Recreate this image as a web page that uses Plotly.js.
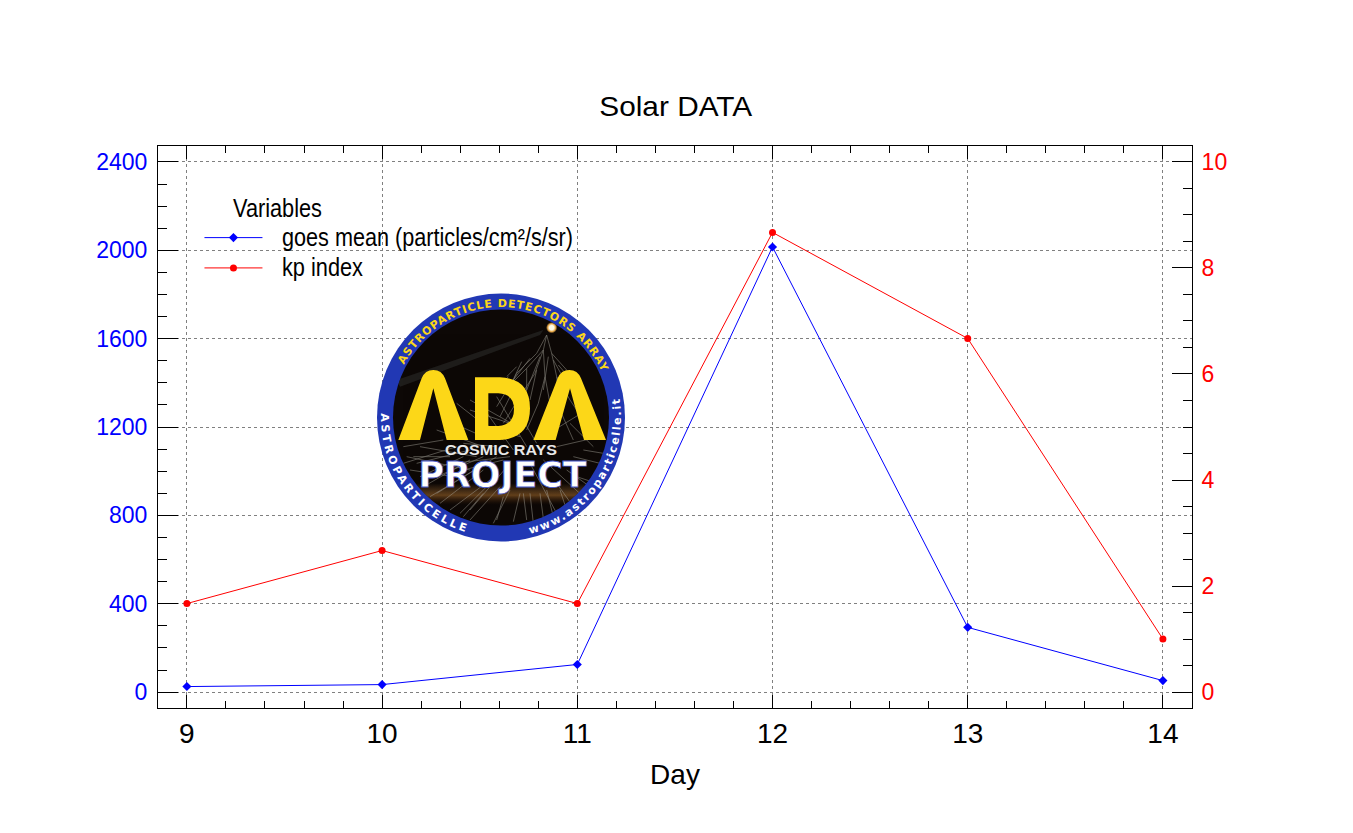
<!DOCTYPE html>
<html>
<head>
<meta charset="utf-8">
<script src="https://cdn.plot.ly/plotly-3.0.1.min.js"></script>
<style>
html,body{margin:0;padding:0;background:#fff;overflow:hidden}
#wrap{position:relative;width:1353px;height:833px}
#chart{position:absolute;left:0;top:0;width:1353px;height:833px}
#logo{position:absolute;left:0;top:0;pointer-events:none}
</style>
</head>
<body>
<div id="wrap">
<div id="chart"></div>
<svg id="logo" width="1353" height="833" viewBox="0 0 1353 833" xmlns="http://www.w3.org/2000/svg"></svg>
</div>
<script>
const days = [9, 10, 11, 12, 13, 14];
const goesMean = [25, 34, 125, 2015, 293, 52];
const kpIndex = [1.67, 2.67, 1.67, 8.67, 6.67, 1.0];
const goesName = 'goes mean (particles/cm²/s/sr)';
const kpName = 'kp index';
const sans = '"Liberation Sans",Arial,sans-serif';

const traces = [
  {x: days, y: goesMean, name: goesName, mode: 'lines+markers', yaxis: 'y',
   line: {color: '#0000ff', width: 1}, marker: {color: '#0000ff', symbol: 'diamond', size: 7}},
  {x: days, y: kpIndex, name: kpName, mode: 'lines+markers', yaxis: 'y2',
   line: {color: '#ff0000', width: 1}, marker: {color: '#ff0000', symbol: 'circle', size: 7}}
];

const layout = {
  width: 1353, height: 833,
  margin: {l: 157.5, r: 160.5, t: 145.5, b: 125, pad: 0},
  paper_bgcolor: '#fff', plot_bgcolor: '#fff',
  showlegend: true,
  title: {text: 'Solar DATA', font: {family: sans, size: 28, color: '#000'},
          x: 677.5/1353, xref: 'paper', xanchor: 'center', y: 1-106/833, yref: 'container', yanchor: 'middle'},
  xaxis: {
    range: [8.852, 14.149], tick0: 9, dtick: 1, tickmode: 'linear',
    ticks: 'inside', ticklen: 13, tickwidth: 1, tickcolor: '#000',
    showline: true, linecolor: '#000', linewidth: 1, mirror: 'ticks',
    showgrid: true, gridcolor: '#808080', gridwidth: 1, griddash: '3px,3px', zeroline: false,
    minor: {dtick: 0.2, tick0: 9, ticks: 'inside', ticklen: 7, tickwidth: 1, tickcolor: '#000', showgrid: false},
    tickfont: {family: sans, size: 28, color: '#000'}, ticklabelstandoff: 0,
    title: {text: 'Day', font: {family: sans, size: 28, color: '#000'}, standoff: 16}
  },
  yaxis: {
    range: [-72, 2472], tick0: 0, dtick: 400, tickmode: 'linear',
    ticks: 'inside', ticklen: 20, tickwidth: 1, tickcolor: '#000',
    showline: true, linecolor: '#000', linewidth: 1,
    showgrid: true, gridcolor: '#808080', gridwidth: 1, griddash: '3px,3px', zeroline: false,
    minor: {dtick: 100, tick0: 0, ticks: 'inside', ticklen: 9, tickwidth: 1, tickcolor: '#000', showgrid: false},
    tickfont: {family: sans, size: 23, color: '#0000ff'}, ticklabelstandoff: 5
  },
  yaxis2: {
    overlaying: 'y', side: 'right', range: [-0.3, 10.3], tick0: 0, dtick: 2, tickmode: 'linear',
    ticks: 'inside', ticklen: 20, tickwidth: 1, tickcolor: '#000',
    showline: true, linecolor: '#000', linewidth: 1,
    showgrid: false, zeroline: false,
    minor: {dtick: 0.5, tick0: 0, ticks: 'inside', ticklen: 9, tickwidth: 1, tickcolor: '#000', showgrid: false},
    tickfont: {family: sans, size: 23, color: '#ff0000'}, ticklabelstandoff: 4
  },
  legend: {
    x: (199-157.5)/1035, y: 1-(189.7-145.5)/562.5, xanchor: 'left', yanchor: 'top',
    bgcolor: 'rgba(0,0,0,0)', borderwidth: 0, itemwidth: 58, tracegroupgap: 0,
    font: {family: sans, size: 21, color: '#000'},
    title: {text: 'Variables', font: {family: sans, size: 21, color: '#000'}}
  }
};

/* Reference lettering is a condensed face: fit each real text to its measured width and left edge */
function fitText(el, width, left, size){
  if(!el) return;
  if(size) el.style.fontSize = size + 'px';
  el.setAttribute('textLength', width);
  el.setAttribute('lengthAdjust', 'spacingAndGlyphs');
  if(left !== null){
    const dx = left - el.getBoundingClientRect().left;
    el.setAttribute('x', (parseFloat(el.getAttribute('x')) || 0) + dx);
  }
}
Plotly.newPlot('chart', traces, layout, {displayModeBar: false, staticPlot: true}).then(function(){
  fitText(document.querySelector('.gtitle'), 153, null, null);
  const box = document.querySelector('.legend .scrollbox');
  if(box) box.removeAttribute('clip-path');
  const items = document.querySelectorAll('.legendtext');
  fitText(items[0], 291, 282, 25);
  fitText(items[1], 81, 282, 25);
  fitText(document.querySelector('.legendtitletext'), 89, 233, 25);
});

/* Decorative badge: artwork in zoomed logo coordinates, all lettering is real text */
const cx = 501, cy = 417.5;
function pt(r, deg){ const a = deg*Math.PI/180; return [cx + r*Math.sin(a), cy - r*Math.cos(a)]; }
function arc(r, from, to){
  const p = pt(r, from), q = pt(r, to), sweep = to > from ? 1 : 0, large = Math.abs(to-from) > 180 ? 1 : 0;
  return `M${p[0].toFixed(2)},${p[1].toFixed(2)}A${r},${r} 0 ${large} ${sweep} ${q[0].toFixed(2)},${q[1].toFixed(2)}`;
}
const showerLines = [
 [530,135,520,180],[530,135,500,190],[530,135,545,190],[520,180,470,235],[520,180,495,250],[520,180,525,260],[545,190,590,240],[545,190,560,260],
 [500,190,440,250],[470,235,420,285],[495,250,450,320],[525,260,505,340],[560,260,600,330],[590,240,640,310],[440,250,415,300],[505,340,470,420],
 [450,320,400,400],[600,330,660,420],[560,260,570,360],[470,235,470,300],[420,285,380,350],[640,310,680,390],[570,360,610,450],[525,260,540,340],
 [300,330,460,420],[260,340,400,450],[200,420,340,470],[150,470,320,500],[110,500,300,540],[330,340,430,480],[380,320,470,470],[430,340,500,460],
 [150,560,280,500],[180,620,330,530],[240,660,360,570],[300,690,390,590],[370,700,420,600],[430,695,450,610],[490,700,480,610],[550,680,530,600],
 [610,650,560,580],[660,590,590,540],[690,520,610,500],[560,470,690,440],[520,440,650,360],[120,540,250,560],[100,470,220,450],[250,400,340,440],
 [200,560,340,500],[420,520,300,660],[480,520,560,670],[380,500,200,610],[520,510,640,620],[340,610,280,680],
 [440,230,410,260],[455,215,420,290],[480,205,430,270],[510,200,470,300],[535,200,520,300],[550,210,600,300],[565,225,620,290],[500,240,480,330],
 [415,260,380,300],[430,300,390,380],[470,300,430,390],[300,360,420,400],[330,400,450,440],[280,460,380,470],[130,500,240,500],[140,520,300,480],
 [100,520,260,470],[160,590,300,510],[210,640,340,540],[270,670,350,590],[400,620,380,690],[460,610,470,690],[510,610,520,685],[570,600,590,660],
 [620,560,680,580],[640,480,700,490],[600,400,670,470],[620,330,660,380],[250,520,420,500],[280,540,400,510]
];
const lineTags = showerLines.map(l => `<line x1="${l[0]}" y1="${l[1]}" x2="${l[2]}" y2="${l[3]}"/>`).join('');
const logoSvg = `
<defs>
 <clipPath id="disc"><circle cx="${cx}" cy="${cy}" r="108"/></clipPath>
 <path id="arcTop" d="${arc(110.5,-61.5,65.8)}"/>
 <path id="arcLeft" d="${arc(120,-88,-163)}"/>
 <path id="arcRight" d="${arc(120,166,80)}"/>
 <radialGradient id="moon"><stop offset="0.4" stop-color="#fffbe8"/><stop offset="0.7" stop-color="#e8a848"/><stop offset="1" stop-color="#e8a848" stop-opacity="0"/></radialGradient>
 <linearGradient id="glow" x1="0" y1="0" x2="0" y2="1"><stop offset="0" stop-color="#b07838" stop-opacity="0"/><stop offset="0.55" stop-color="#a86c2c" stop-opacity="0.55"/><stop offset="1" stop-color="#402008" stop-opacity="0"/></linearGradient>
</defs>
<circle cx="${cx}" cy="${cy}" r="124" fill="#2138b4"/>
<circle cx="${cx}" cy="${cy}" r="108" fill="#0d0806"/>
<g clip-path="url(#disc)">
 <g transform="translate(370,290) scale(0.33333)">
  <path d="M80,270 L520,120 L510,135 L90,290 Z" fill="#272625" opacity="0.7"/>
  <rect x="70" y="580" width="650" height="65" fill="url(#glow)"/>
  <g stroke="#a8a49c" stroke-width="2" fill="none" opacity="0.7">${lineTags}</g>
  <circle cx="545" cy="113" r="17" fill="url(#moon)"/>
 </g>
</g>
<g transform="translate(390,360) scale(0.33333)" fill="#fcd718">
 <path d="M25,240 L95,55 Q105,30 130,30 Q155,30 165,55 L235,240 L170,240 L130,85 L90,240 Z"/>
 <path fill-rule="evenodd" d="M255,52 L330,52 Q420,55 420,145 Q420,235 330,240 L255,240 Z M295,100 L295,198 L325,198 Q372,195 372,147 Q372,103 325,100 Z"/>
 <path d="M430,240 L503,55 Q513,30 538,30 Q563,30 573,55 L648,240 L582,240 L540,85 L497,240 Z"/>
</g>
<text x="501" y="455" text-anchor="middle" textLength="112" lengthAdjust="spacingAndGlyphs" font-family="Liberation Sans,Arial,sans-serif" font-size="14" font-weight="bold" fill="#e8e8e8">COSMIC RAYS</text>
<text x="502.5" y="486.5" text-anchor="middle" textLength="168" lengthAdjust="spacingAndGlyphs" font-family="DejaVu Sans,Liberation Sans,sans-serif" font-size="36" font-weight="bold" fill="#ffffff" stroke="#4a5ccc" stroke-width="0.8">PROJECT</text>
<g font-family="DejaVu Sans,Liberation Sans,sans-serif" font-weight="bold" font-size="11">
 <text fill="#fcd718"><textPath href="#arcTop" textLength="245">ASTROPARTICLE DETECTORS ARRAY</textPath></text>
 <text fill="#ffffff"><textPath href="#arcLeft" textLength="156">ASTROPARTICELLE</textPath></text>
 <text fill="#ffffff"><textPath href="#arcRight" textLength="178">www.astroparticelle.it</textPath></text>
</g>`;
document.getElementById('logo').innerHTML = logoSvg;
</script>
</body>
</html>
